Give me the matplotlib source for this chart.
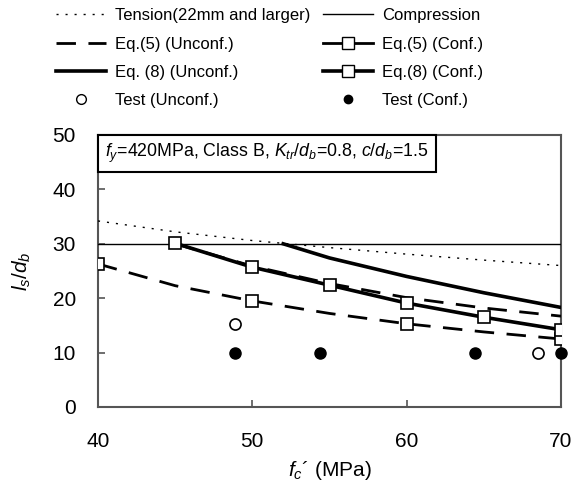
import matplotlib
matplotlib.use("Agg")
import matplotlib.pyplot as plt
from matplotlib.lines import Line2D

plt.rcParams["font.family"] = ["Liberation Sans", "DejaVu Sans"]
plt.rcParams["mathtext.fontset"] = "custom"
plt.rcParams["mathtext.rm"] = "Liberation Sans"
plt.rcParams["mathtext.it"] = "Liberation Sans:italic"

# ── Data ─────────────────────────────────────────────────────────────────────
fc_all = [40, 45, 50, 55, 60, 65, 70]

tension = [34.2, 32.2, 30.6, 29.3, 28.1, 27.0, 26.0]
compression = [30, 30, 30, 30, 30, 30, 30]

eq5_unconf_x = [45, 50, 55, 60, 65, 70]
eq5_unconf_y = [30.0, 25.9, 22.7, 20.1, 18.2, 16.7]

eq8_unconf_x = [52, 55, 60, 65, 70]
eq8_unconf_y = [30.0, 27.4, 24.0, 21.0, 18.3]

eq5_conf_x = [40, 45, 50, 55, 60, 65, 70]
eq5_conf_y = [26.3, 22.3, 19.5, 17.2, 15.3, 13.8, 12.5]

eq8_conf_x = [45, 50, 55, 60, 65, 70]
eq8_conf_y = [30.1, 25.7, 22.4, 19.1, 16.5, 14.2]

test_unconf_x = [48.9, 68.5]
test_unconf_y = [15.3, 10.0]

test_conf_x = [48.9, 54.4, 64.4, 70.0]
test_conf_y = [10.0, 10.0, 10.0, 10.0]

# ── Figure ───────────────────────────────────────────────────────────────────
fig = plt.figure(figsize=(5.82, 4.84), dpi=100)
ax = fig.add_axes([98 / 582, 77 / 484, 463 / 582, 272 / 484])

dash = (7.0, 4.5)
dots = (1.5, 5.0)
ax.plot(fc_all, tension, color="black", lw=1.0, ls=(0, dots), zorder=3)
ax.plot(fc_all, compression, color="black", lw=1.0, zorder=3)
ax.plot(eq5_unconf_x, eq5_unconf_y, color="black", lw=2.0, ls=(0, dash), zorder=3)
ax.plot(eq8_unconf_x, eq8_unconf_y, color="black", lw=2.6, zorder=3)
ax.plot(eq5_conf_x, eq5_conf_y, color="black", lw=2.0, ls=(0, dash),
        marker="s", markevery=[0, 2, 4, 6], ms=8, mfc="white", mec="black",
        mew=1.2, zorder=4)
ax.plot(eq8_conf_x, eq8_conf_y, color="black", lw=2.6,
        marker="s", ms=8, mfc="white", mec="black", mew=1.2, zorder=4)
ax.plot(test_unconf_x, test_unconf_y, ls="none", marker="o", ms=8,
        mfc="white", mec="black", mew=1.2, zorder=5, clip_on=False)
ax.plot(test_conf_x, test_conf_y, ls="none", marker="o", ms=8,
        color="black", zorder=5, clip_on=False)

ax.set_xlim(40, 70)
ax.set_ylim(0, 50)
ax.set_xticks([40, 50, 60, 70])
ax.set_yticks([0, 10, 20, 30, 40, 50])
ax.tick_params(direction="in", length=5, width=1.2, color="#555555",
               labelsize=15)
ax.tick_params(axis="y", pad=16)
ax.tick_params(axis="x", pad=18)
for s in ax.spines.values():
    s.set_color("#555555")
    s.set_linewidth(1.5)

ax.set_xlabel(r"$f_c$´ (MPa)", fontsize=15, labelpad=6)
ax.set_ylabel(r"$l_s/d_b$", fontsize=15, labelpad=14)

ax.text(7 / 463, 1 - 7 / 272,
        r"$f_y$=420MPa, Class B, $K_{tr}/d_b$=0.8, $c/d_b$=1.5",
        transform=ax.transAxes, ha="left", va="top", fontsize=12.8,
        bbox=dict(boxstyle="square,pad=0.4", fc="white", ec="black", lw=1.5),
        zorder=6)

# ── Legend above the axes ────────────────────────────────────────────────────
handles = [
    Line2D([], [], color="black", lw=1.0, ls=(0, dots)),
    Line2D([], [], color="black", lw=2.0, ls=(0, dash)),
    Line2D([], [], color="black", lw=2.6),
    Line2D([], [], ls="none", marker="o", ms=7, mfc="white", mec="black"),
    Line2D([], [], color="black", lw=1.0),
    Line2D([], [], color="black", lw=2.0, marker="s", ms=8, mfc="white", mec="black"),
    Line2D([], [], color="black", lw=2.6, marker="s", ms=8, mfc="white", mec="black"),
    Line2D([], [], ls="none", marker="o", ms=6, color="black"),
]
labels = [
    "Tension(22mm and larger)", "Eq.(5) (Unconf.)", "Eq. (8) (Unconf.)",
    "Test (Unconf.)", "Compression", "Eq.(5) (Conf.)", "Eq.(8) (Conf.)",
    "Test (Conf.)",
]
fig.legend(handles, labels, ncol=2, loc="upper left",
           bbox_to_anchor=(53 / 582, 1 - 5 / 484), frameon=False, fontsize=12,
           handlelength=3.0, handletextpad=0.5, columnspacing=0.8,
           labelspacing=0.8, borderpad=0.2, borderaxespad=0)

fig.savefig("out.png", dpi=100)
